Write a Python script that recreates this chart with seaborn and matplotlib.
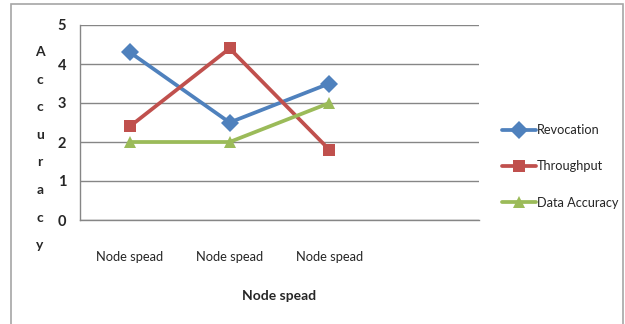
import numpy as np
import pandas as pd
import seaborn as sns
import matplotlib.pyplot as plt
from matplotlib.patches import Rectangle

categories = ['Node spead', 'Node spead', 'Node spead', '']
revocation = [4.3, 2.5, 3.5]
throughput = [2.4, 4.4, 1.8]
data_accuracy = [2.0, 2.0, 3.0]
series_names = ['Revocation', 'Throughput', 'Data Accuracy']
colors = ['#4F81BD', '#C0504D', '#9BBB59']
marker_list = ['D', 's', '^']

rows = []
for name, vals in zip(series_names, [revocation, throughput, data_accuracy]):
    for i, v in enumerate(vals):
        rows.append({'pos': i, 'value': v, 'series': name})
df = pd.DataFrame(rows)

sns.set_style('white')
plt.rcParams['font.family'] = ['Lato', 'DejaVu Sans']

fig = plt.figure(figsize=(6.25, 3.24), dpi=100)
ax = fig.add_axes([80 / 625, 1 - 220 / 324, 399 / 625, 195 / 324])

sns.lineplot(data=df, x='pos', y='value', hue='series', style='series',
             hue_order=series_names, style_order=series_names,
             palette=dict(zip(series_names, colors)),
             markers=dict(zip(series_names, marker_list)), dashes=False,
             linewidth=2.7, markersize=9, markeredgewidth=0, ax=ax)

ax.set_xlim(-0.5, len(categories) - 0.5)
ax.set_ylim(0, 5)
ax.set_yticks(range(6))
ax.set_xticks(range(len(categories)))
ax.set_xticklabels(categories, fontsize=9.3)
ax.set_xticks(np.arange(-0.5, len(categories), 1), minor=True)
ax.tick_params(axis='x', which='major', length=0, pad=22)
ax.tick_params(axis='x', which='minor', length=4, color='#868686', direction='out')
ax.tick_params(axis='y', length=4, color='#868686', direction='out', labelsize=10.5, pad=6)
for t in ax.get_yticklabels():
    t.set_fontweight('bold')
ax.grid(axis='y', color='#868686', linewidth=1)
ax.set_axisbelow(True)
for s in ['top', 'right']:
    ax.spines[s].set_visible(False)
for s in ['left', 'bottom']:
    ax.spines[s].set_color('#868686')
    ax.spines[s].set_linewidth(1)

ax.set_xlabel('Node spead', fontsize=10, fontweight='bold', labelpad=20)
ax.set_ylabel('')

for i, ch in enumerate('Accuracy'):
    fig.text(40 / 625, 1 - (52 + i * 27.6) / 324, ch, fontsize=10,
             fontweight='bold', ha='center', va='center')

leg = ax.legend(loc='center left', bbox_to_anchor=(1.03, 0.275), frameon=False,
                fontsize=9.2, handlelength=2.6, handletextpad=0.1, labelspacing=1.9)

fig.patches.append(Rectangle((11 / 625, -0.1), 612 / 625, 1.1 - 4 / 324,
                             transform=fig.transFigure, fill=False,
                             edgecolor='#a6a6a6', linewidth=1.2))

fig.savefig('out.png', dpi=100)
